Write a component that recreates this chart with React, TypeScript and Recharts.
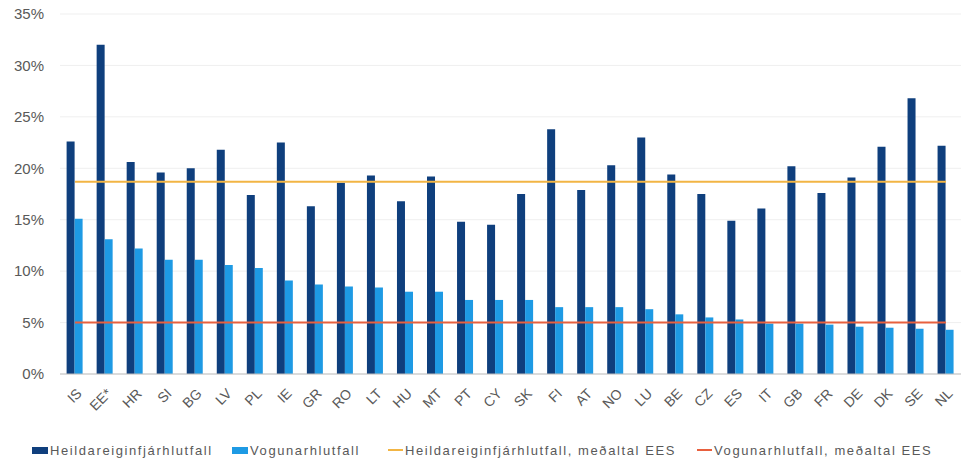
import React from "react";
import { ComposedChart, Bar, Line, XAxis, YAxis, CartesianGrid } from "recharts";

const countries = [
  "IS", "EE*", "HR", "SI", "BG", "LV", "PL", "IE", "GR", "RO",
  "LT", "HU", "MT", "PT", "CY", "SK", "FI", "AT", "NO", "LU",
  "BE", "CZ", "ES", "IT", "GB", "FR", "DE", "DK", "SE", "NL",
];

// Heildareiginfjárhlutfall (%)
const totalCapital = [
  22.6, 32.0, 20.6, 19.6, 20.0, 21.8, 17.4, 22.5, 16.3, 18.6,
  19.3, 16.8, 19.2, 14.8, 14.5, 17.5, 23.8, 17.9, 20.3, 23.0,
  19.4, 17.5, 14.9, 16.1, 20.2, 17.6, 19.1, 22.1, 26.8, 22.2,
];

// Vogunarhlutfall (%)
const leverage = [
  15.1, 13.1, 12.2, 11.1, 11.1, 10.6, 10.3, 9.1, 8.7, 8.5,
  8.4, 8.0, 8.0, 7.2, 7.2, 7.2, 6.5, 6.5, 6.5, 6.3,
  5.8, 5.5, 5.3, 4.9, 4.9, 4.8, 4.6, 4.5, 4.4, 4.3,
];

const avgTotalCapital = 18.7;
const avgLeverage = 5.0;

const yTicks = [0, 5, 10, 15, 20, 25, 30, 35];

const seriesNames = [
  "Heildareiginfjárhlutfall",
  "Vogunarhlutfall",
  "Heildareiginfjárhlutfall, meðaltal EES",
  "Vogunarhlutfall, meðaltal EES",
];

const DARK = "#0F3F7D";
const LIGHT = "#1E9AE4";
const GOLD = "#F2B544";
const RED = "#E8603E";
const TEXT = "#595959";
const FONT = "'Liberation Sans', Arial, sans-serif";

const data = countries.map((c, i) => ({
  country: c,
  total: totalCapital[i],
  leverage: leverage[i],
  avgTotal: avgTotalCapital,
  avgLev: avgLeverage,
}));

function CountryTick({ x, y, payload }: any) {
  return (
    <g transform={`translate(${x + 4},${y + 9})`}>
      <text
        x={0}
        y={0}
        dy="0.35em"
        textAnchor="end"
        transform="rotate(-45)"
        fill={TEXT}
        fontSize={14}
        fontFamily={FONT}
      >
        {payload.value}
      </text>
    </g>
  );
}

const legendItems = [
  { name: seriesNames[0], color: DARK, kind: "box", left: 32 },
  { name: seriesNames[1], color: LIGHT, kind: "box", left: 232 },
  { name: seriesNames[2], color: GOLD, kind: "line", left: 388 },
  { name: seriesNames[3], color: RED, kind: "line", left: 697 },
];

export default function App() {
  return (
    <div style={{ position: "relative", width: 961, height: 461, background: "#fff" }}>
      <style>{`body{margin:0}`}</style>
      <ComposedChart
        width={961}
        height={461}
        data={data}
        margin={{ top: 14, right: 0, left: 0, bottom: 47 }}
        barCategoryGap="22%"
        barGap={0}
      >
        <CartesianGrid vertical={false} stroke="#EFEFEF" />
        <XAxis
          dataKey="country"
          interval={0}
          height={40}
          tickLine={false}
          axisLine={{ stroke: "#BFBFBF" }}
          tick={<CountryTick />}
        />
        <YAxis
          width={60}
          domain={[0, 35]}
          ticks={yTicks}
          tickFormatter={(v) => `${v}%`}
          axisLine={false}
          tickLine={false}
          tickSize={0}
          tickMargin={16}
          tick={{ fill: TEXT, fontSize: 15, fontFamily: FONT }}
        />
        <Bar dataKey="total" name={seriesNames[0]} fill={DARK} isAnimationActive={false} />
        <Bar dataKey="leverage" name={seriesNames[1]} fill={LIGHT} isAnimationActive={false} />
        <Line
          dataKey="avgTotal"
          name={seriesNames[2]}
          stroke={GOLD}
          strokeWidth={2}
          dot={false}
          isAnimationActive={false}
        />
        <Line
          dataKey="avgLev"
          name={seriesNames[3]}
          stroke={RED}
          strokeWidth={2}
          dot={false}
          isAnimationActive={false}
        />
      </ComposedChart>
      {legendItems.map((it) => (
        <div
          key={it.name}
          style={{
            position: "absolute",
            left: it.left,
            top: 441,
            height: 18,
            display: "flex",
            alignItems: "center",
            fontFamily: FONT,
            fontSize: 13,
            letterSpacing: 1.6,
            color: TEXT,
            whiteSpace: "nowrap",
          }}
        >
          <span
            style={{
              display: "inline-block",
              width: it.kind === "box" ? 16 : 15,
              height: it.kind === "box" ? 7 : 2,
              background: it.color,
              marginRight: 2,
            }}
          />
          {it.name}
        </div>
      ))}
    </div>
  );
}
